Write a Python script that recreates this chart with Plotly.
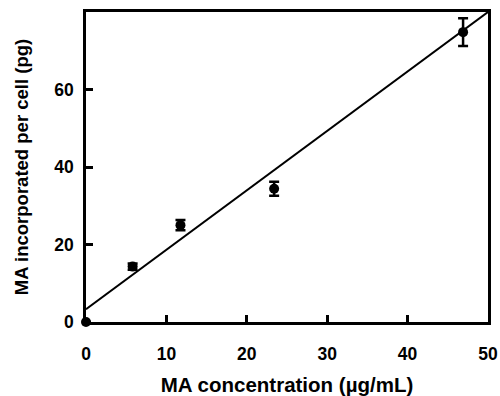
import plotly.graph_objects as go

# data
conc = [0, 5.8, 11.75, 23.4, 46.9]
uptake = [0, 14.3, 25.0, 34.4, 74.8]
uptake_err = [0, 0.8, 1.3, 1.8, 3.6]
fit_x = [0, 50]
fit_y = [3.3, 80]
x_ticks = [0, 10, 20, 30, 40, 50]
y_ticks = [0, 20, 40, 60]

fig = go.Figure()
fig.add_trace(go.Scatter(x=fit_x, y=fit_y, mode="lines",
                         line=dict(color="black", width=2), showlegend=False,
                         cliponaxis=True))
fig.add_trace(go.Scatter(x=conc, y=uptake, mode="markers",
                         marker=dict(color="black", size=10),
                         error_y=dict(type="data", array=uptake_err, visible=True,
                                      color="black", thickness=2.5, width=5),
                         showlegend=False, cliponaxis=False))

font = "Liberation Sans, Arial, sans-serif"
fig.update_layout(
    width=500, height=396,
    margin=dict(l=86, r=12, t=12, b=74),
    paper_bgcolor="white", plot_bgcolor="white",
    font=dict(family=font, color="black"),
    xaxis=dict(range=[0, 50], tickvals=x_ticks, ticks="inside", ticklen=7, tickwidth=2.5,
               tickcolor="black", showline=True, linewidth=2.5, linecolor="black",
               mirror=True, showgrid=False, zeroline=False, automargin=False,
               ticklabelstandoff=14,
               tickfont=dict(size=17.5, family=font, weight="bold"),
               title=dict(text="<b>MA concentration (µg/mL)</b>",
                          font=dict(size=20.5, family=font), standoff=24)),
    yaxis=dict(range=[0, 80], tickvals=y_ticks, ticks="inside", ticklen=7, tickwidth=2.5,
               tickcolor="black", showline=True, linewidth=2.5, linecolor="black",
               mirror=True, showgrid=False, zeroline=False, automargin=False,
               ticklabelstandoff=6,
               tickfont=dict(size=17.5, family=font, weight="bold"),
               title=dict(text="<b>MA incorporated per cell (pg)</b>",
                          font=dict(size=18.5, family=font), standoff=21)),
)
fig.write_html("out.html", config={"displayModeBar": False},
               post_script="document.body.style.margin='0';document.body.style.overflow='hidden';")
